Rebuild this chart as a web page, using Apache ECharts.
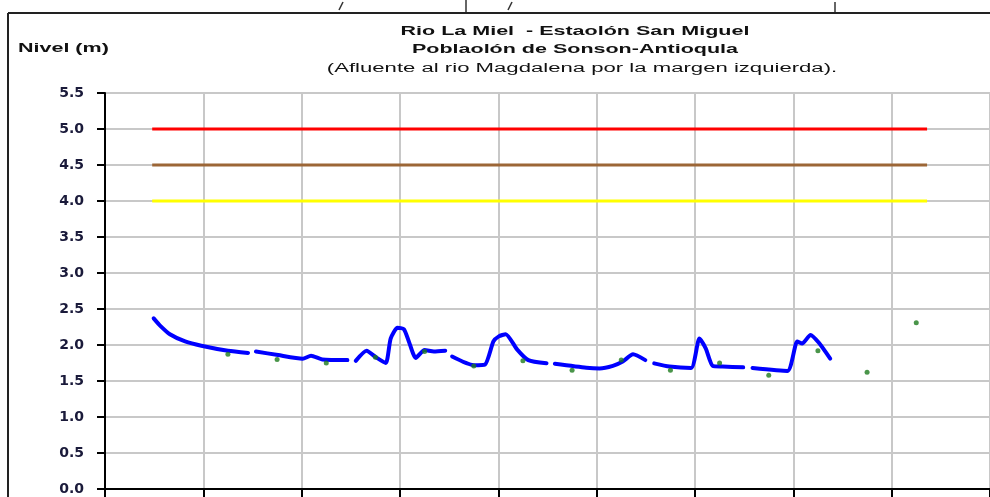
<!DOCTYPE html>
<html lang="es">
<head>
    <meta charset="UTF-8">
    <title>Rio La Miel - Estacion San Miguel</title>
    <style>
        * { padding: 0; margin: 0; }
        html, body { width: 990px; height: 497px; background: #fff; }
        #chart { width: 990px; height: 497px; }
    </style>
</head>
<body>
    <div id="chart"></div>
    <script src="https://cdn.jsdelivr.net/npm/echarts@6/dist/echarts.min.js"></script>
    <script type="text/javascript">
        // nivel continuo (dias desde el inicio del eje); null = corte de la linea
        var levelDays = [
            0.99, 1.12, 1.32, 1.63, 1.96, 2.50, 2.91, 3.0,
            3.07, 3.52, 4.02, 4.19, 4.42, 4.93, 5.02,
            5.10, 5.32, 5.51, 5.71, 5.81, 5.95, 6.08, 6.18, 6.32, 6.50, 6.69, 6.92, 7.0,
            7.06, 7.50, 7.73, 7.90, 8.01, 8.15, 8.38, 8.61, 8.98, 9.06,
            9.15, 9.79, 10.06, 10.33, 10.53, 10.74, 10.99, 11.08,
            11.17, 11.48, 11.92, 12.09, 12.22, 12.36, 12.56, 12.98, 13.08,
            13.17, 13.88, 14.08, 14.18, 14.35, 14.52, 14.75
        ];
        var levelValues = [
            2.37, 2.27, 2.15, 2.05, 1.99, 1.92, 1.89, null,
            1.91, 1.86, 1.81, 1.85, 1.80, 1.79, null,
            1.78, 1.92, 1.83, 1.75, 2.09, 2.24, 2.22, 2.05, 1.82, 1.93, 1.91, 1.92, null,
            1.84, 1.72, 1.73, 2.05, 2.12, 2.15, 1.94, 1.79, 1.745, null,
            1.74, 1.685, 1.675, 1.71, 1.77, 1.87, 1.79, null,
            1.745, 1.70, 1.68, 2.09, 1.95, 1.71, 1.70, 1.69, null,
            1.68, 1.64, 2.05, 2.02, 2.14, 2.03, 1.81
        ];

        // lecturas diarias (puntos verdes)
        var obsDays = [2.5, 3.5, 4.5, 5.5, 6.5, 7.5, 8.5, 9.5, 10.5, 11.5, 12.5, 13.5, 14.5, 15.5, 16.5];
        var obsValues = [1.87, 1.80, 1.75, 1.83, 1.91, 1.71, 1.78, 1.65, 1.79, 1.65, 1.75, 1.58, 1.92, 1.62, 2.31];

        // niveles de alerta
        var alertLevels = [5.0, 4.5, 4.0];
        var alertColors = ['#ff0000', '#9c6636', '#ffff00'];
        var alertStart = 0.96;
        var alertEnd = 16.72;

        var yTicks = [0, 0.5, 1, 1.5, 2, 2.5, 3, 3.5, 4, 4.5, 5, 5.5];

        var titleLines = [
            'Rio La Miel  - Estaolón San Miguel',
            'Poblaolón de Sonson-Antioqula',
            '(Afluente al rio Magdalena por la margen izquierda).'
        ];

        window.onload = function () {
            var myChart = echarts.init(document.getElementById('chart'));

            var levelData = levelDays.map(function (d, i) {
                return [d, levelValues[i] === null ? '-' : levelValues[i]];
            });
            var obsData = obsDays.map(function (d, i) { return [d, obsValues[i]]; });

            var series = [];
            alertLevels.forEach(function (lv, i) {
                series.push({
                    type: 'line',
                    data: [[alertStart, lv], [alertEnd, lv]],
                    showSymbol: false,
                    silent: true,
                    lineStyle: { color: alertColors[i], width: 3 }
                });
            });
            series.push({
                type: 'line',
                data: levelData,
                showSymbol: false,
                connectNulls: false,
                smooth: 0.2,
                lineStyle: { color: '#0000ff', width: 4, join: 'round', cap: 'round' },
                z: 5
            });
            series.push({
                type: 'scatter',
                data: obsData,
                symbol: 'circle',
                symbolSize: 5,
                itemStyle: { color: '#1d7a1d' },
                z: 6
            });

            var graphics = [
                // marco del grafico
                { type: 'line', shape: { x1: 8, y1: 13, x2: 990, y2: 13 }, style: { stroke: '#222', lineWidth: 2 } },
                { type: 'line', shape: { x1: 8, y1: 13, x2: 8, y2: 497 }, style: { stroke: '#222', lineWidth: 2 } },
                // restos del contenido superior
                { type: 'line', shape: { x1: 339, y1: 10, x2: 343, y2: 2 }, style: { stroke: '#333', lineWidth: 1.5 } },
                { type: 'line', shape: { x1: 466, y1: 0, x2: 466, y2: 12 }, style: { stroke: '#333', lineWidth: 1.5 } },
                { type: 'line', shape: { x1: 508, y1: 10, x2: 512, y2: 2 }, style: { stroke: '#333', lineWidth: 1.5 } },
                { type: 'line', shape: { x1: 835, y1: 2, x2: 835, y2: 12 }, style: { stroke: '#333', lineWidth: 1.5 } },
                {
                    type: 'text', x: 18, y: 42, scaleX: 1.72, originX: 0,
                    style: { text: 'Nivel (m)', font: 'bold 12.5px "Liberation Sans", Arial', fill: '#111' }
                }
            ];
            var titleY = [25, 43, 62];
            var titleX = [575, 575, 582];
            var titleScale = [1.72, 1.72, 1.77];
            titleLines.forEach(function (t, i) {
                graphics.push({
                    type: 'text', x: titleX[i], y: titleY[i], scaleX: titleScale[i], originX: 0,
                    style: {
                        text: t, textAlign: 'center',
                        font: (i < 2 ? 'bold ' : '') + '12.5px "Liberation Sans", Arial',
                        fill: '#111'
                    }
                });
            });

            var option = {
                animation: false,
                backgroundColor: '#fff',
                grid: { left: 105, right: -3, top: 93, bottom: 8, containLabel: false },
                xAxis: {
                    type: 'value',
                    min: 0,
                    max: 18,
                    interval: 2,
                    axisLine: { lineStyle: { color: '#000', width: 2 } },
                    axisTick: { show: true, length: 8, lineStyle: { color: '#000', width: 2 } },
                    axisLabel: { show: false },
                    splitLine: { show: true, lineStyle: { color: '#c8c8c8', width: 2 } }
                },
                yAxis: {
                    type: 'value',
                    min: yTicks[0],
                    max: yTicks[yTicks.length - 1],
                    interval: 0.5,
                    axisLine: { show: true, lineStyle: { color: '#000', width: 2 } },
                    axisTick: { show: true, length: 8, lineStyle: { color: '#000', width: 2 } },
                    axisLabel: {
                        margin: 21,
                        color: '#1a1a3a',
                        fontFamily: 'DejaVu Sans',
                        fontWeight: 'bold',
                        fontSize: 14,
                        formatter: function (v) { return v.toFixed(1); }
                    },
                    splitLine: { show: true, lineStyle: { color: '#c8c8c8', width: 2 } }
                },
                graphic: graphics,
                series: series
            };

            myChart.setOption(option);
        };
    </script>
</body>
</html>
